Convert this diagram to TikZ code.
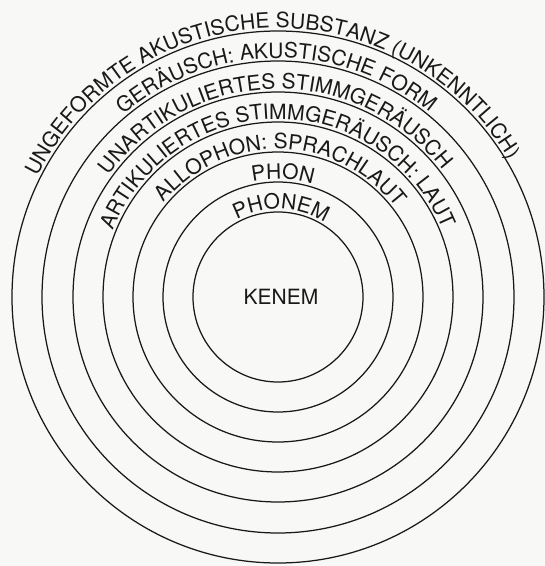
\documentclass[tikz,border=0pt]{standalone}
\usepackage{fontspec}
\setmainfont{TeX Gyre Heros}
\usetikzlibrary{decorations.text}
\definecolor{paper}{RGB}{248,248,246}
\definecolor{ink}{RGB}{25,25,25}
\begin{document}
\begin{tikzpicture}[x=1pt,y=1pt,
  ring/.style={line width=1.25pt, draw=ink},
  arclabel/.style={decorate, decoration={text along path, text align=center, text color=ink, text={#1}}}]
\fill[paper] (-278,-269) rectangle (267,297);
\useasboundingbox (-278,-269) rectangle (267,297);
% concentric circles
\foreach \r in {85,115,145,175,205,236,266} \draw[ring] (0,0) circle[radius=\r];
% centre label
\node[text=ink, inner sep=0pt] (kenem) at (3,0) {\fontsize{21}{25}\selectfont KENEM};
% ring labels
\path[arclabel={|\fontsize{21}{25}\selectfont|UNGEFORMTE AKUSTISCHE SUBSTANZ (UNKENNTLICH)}]
  (182:269) arc[start angle=182, end angle=2, radius=269];
\path[arclabel={|\fontsize{21}{25}\selectfont|GERÄUSCH: AKUSTISCHE FORM}]
  (180.5:239) arc[start angle=180.5, end angle=0.5, radius=239];
\path[arclabel={|\fontsize{21}{25}\selectfont|UNARTIKULIERTES STIMMGERÄUSCH}]
  (181:208) arc[start angle=181, end angle=1, radius=208];
\path[arclabel={|\fontsize{21}{25}\selectfont|ARTIKULIERTES STIMMGERÄUSCH: LAUT}]
  (180.2:178) arc[start angle=180.2, end angle=0.2, radius=178];
\path[arclabel={|\fontsize{21}{25}\selectfont|ALLOPHON: SPRACHLAUT}]
  (178.8:148) arc[start angle=178.8, end angle=-1.2, radius=148];
\path[arclabel={|\fontsize{21}{25}\selectfont|PHON}]
  (177.7:118) arc[start angle=177.7, end angle=-2.3, radius=118];
\path[arclabel={|\fontsize{21}{25}\selectfont|PHONEM}]
  (178:88) arc[start angle=178, end angle=-2, radius=88];
\end{tikzpicture}
\end{document}
